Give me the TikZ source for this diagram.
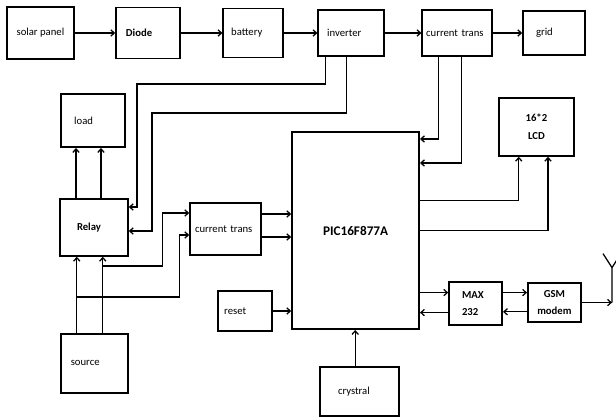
\documentclass[tikz,border=0pt]{standalone}
\usepackage{fontspec}
\setmainfont{Carlito}
\usetikzlibrary{positioning, arrows.meta}

\begin{document}
\begin{tikzpicture}[
  blk/.style={rectangle, draw, line width=1.1pt, inner sep=1pt,
              align=center, font=\fontsize{7.6}{9.5}\selectfont},
  bblk/.style={blk, font=\fontsize{7.6}{12.5}\selectfont\bfseries},
  pblk/.style={blk, font=\fontsize{9.4}{11}\selectfont\bfseries},
  txl/.style={text width=#1, align=left},
  arr/.style={-{Straight Barb[length=2.5pt, width=4.5pt]}, line width=0.9pt},
  lnk/.style={line width=0.9pt}
]
\useasboundingbox (0,0) rectangle (15.4,10.425);

%% --- top row: solar chain ---
\node[blk, minimum width=1.68cm, minimum height=1.30cm] (sol) at (1.01,  9.60) {solar panel};
\node[bblk, txl=1.10cm, minimum width=1.60cm, minimum height=1.28cm] (dio) at (3.70,  9.60) {Diode};
\node[blk, txl=1.10cm, minimum width=1.50cm, minimum height=1.23cm] (bat) at (6.33,  9.60) {battery};
\node[blk, txl=1.20cm, minimum width=1.65cm, minimum height=1.15cm] (inv) at (8.78,  9.60) {inverter};
\node[blk, txl=1.55cm, minimum width=1.75cm, minimum height=1.15cm] (ctt) at (11.43, 9.60) {current trans};
\node[blk, txl=0.90cm, minimum width=1.55cm, minimum height=1.10cm] (grd) at (13.85, 9.60) {grid};
\draw[arr] (sol.east) -- (dio.west);
\draw[arr] (dio.east) -- (bat.west);
\draw[arr] (bat.east) -- (inv.west);
\draw[arr] (inv.east) -- (ctt.west);
\draw[arr] (ctt.east) -- (grd.west);

%% --- left column ---
\node[blk, txl=0.95cm, minimum width=1.60cm, minimum height=1.33cm] (ld)  at (2.33,  7.41) {load};
\node[bblk, txl=0.85cm, minimum width=1.70cm, minimum height=1.43cm] (rly) at (2.35,  4.74) {Relay};
\node[blk, txl=1.18cm, minimum width=1.68cm, minimum height=1.48cm] (src) at (2.36,  1.34) {source};
\node[blk, txl=1.53cm, minimum width=1.78cm, minimum height=1.30cm] (ctm) at (5.64,  4.70) {current trans};
\node[blk, txl=1.05cm, minimum width=1.35cm, minimum height=1.00cm] (rst) at (6.13,  2.65) {reset};

%% --- controller and right side ---
\node[pblk, minimum width=3.18cm, minimum height=4.93cm] (pic) at (8.89,  4.66) {PIC16F877A};
\node[bblk, minimum width=1.88cm, minimum height=1.45cm] (lcd) at (13.41, 7.25) {16*2\\LCD};
\node[bblk, txl=0.68cm, minimum width=1.33cm, minimum height=1.08cm] (max) at (11.89, 2.84) {MAX\\232};
\node[bblk, minimum width=1.33cm, minimum height=0.98cm] (gsm) at (13.86, 2.86) {GSM\\modem};
\node[blk, txl=1.08cm, minimum width=1.98cm, minimum height=1.23cm] (cry) at (8.99,  0.64) {crystral};

\coordinate (j1)  at (2.575, 3.775);
\coordinate (j2)  at (1.925, 3.0);
\coordinate (ant) at (15.3, 2.86);

%% inverter -> relay
\draw[arr] ([xshift=-0.65cm]inv.south) |- (3.425,8.325) |- ([yshift=0.51cm]rly.east);
\draw[arr] ([xshift=-0.125cm]inv.south) |- (3.8,7.6) |- ([yshift=-0.09cm]rly.east);

%% current trans -> PIC
\draw[arr] ([xshift=-0.475cm]ctt.south) |- ([yshift=2.29cm]pic.east);
\draw[arr] ([xshift=0.1cm]ctt.south) |- ([yshift=1.69cm]pic.east);

%% PIC -> LCD
\draw[arr] ([yshift=0.76cm]pic.east) -| ([xshift=-0.44cm]lcd.south);
\draw[arr] ([yshift=0.01cm]pic.east) -| ([xshift=0.29cm]lcd.south);

%% relay -> load, source -> relay
\draw[arr] ([xshift=-0.45cm]rly.north) -- ([xshift=-0.45cm]rly.north |- ld.south);
\draw[arr] ([xshift=0.175cm]rly.north) -- ([xshift=0.175cm]rly.north |- ld.south);
\draw[arr] ([xshift=-0.44cm]src.north) -- ([xshift=-0.44cm]src.north |- rly.south);
\draw[arr] ([xshift=0.21cm]src.north) -- ([xshift=0.21cm]src.north |- rly.south);

%% source -> current trans
\draw[arr] (j1) -| ([xshift=-0.675cm, yshift=0.4cm]ctm.west) -- ([yshift=0.4cm]ctm.west);
\draw[arr] (j2) -| ([xshift=-0.25cm, yshift=-0.15cm]ctm.west) -- ([yshift=-0.15cm]ctm.west);

%% current trans, reset, crystal -> PIC
\draw[arr] ([yshift=0.375cm]ctm.east) -- ([yshift=0.375cm]ctm.east -| pic.west);
\draw[arr] ([yshift=-0.2cm]ctm.east) -- ([yshift=-0.2cm]ctm.east -| pic.west);
\draw[arr] (rst.east) -- (rst.east -| pic.west);
\draw[arr] ([xshift=-0.11cm]cry.north) -- ([xshift=-0.11cm]cry.north |- pic.south);

%% PIC <-> MAX 232 <-> GSM
\draw[arr] ([yshift=0.27cm]max.west -| pic.east) -- ([yshift=0.27cm]max.west);
\draw[arr] ([yshift=-0.23cm]max.west) -- ([yshift=-0.23cm]max.west -| pic.east);
\draw[arr] ([yshift=0.27cm]max.east) -- ([yshift=0.27cm]max.east -| gsm.west);
\draw[arr] ([yshift=-0.23cm]gsm.west) -- ([yshift=-0.23cm]gsm.west -| max.east);

%% antenna
\draw[arr] (gsm.east) -- (ant);
\draw[lnk] (ant) -- ++(0,0.875) coordinate (atop) -- ++(-0.225,0.35)
           (atop) -- ++(0.225,0.35);

\end{tikzpicture}
\end{document}
